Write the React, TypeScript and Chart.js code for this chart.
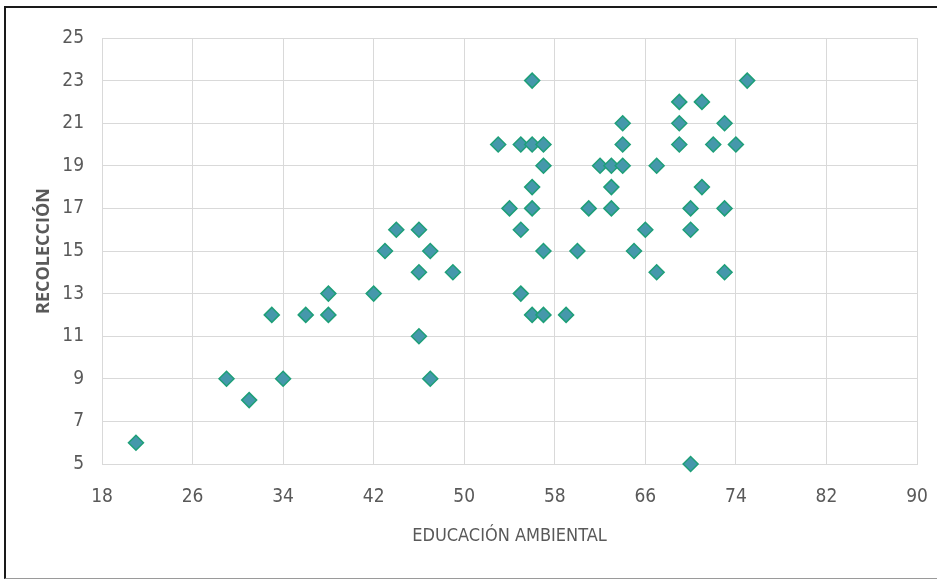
import { useEffect, useRef } from 'react';
import { Chart, registerables } from 'chart.js';

Chart.register(...registerables);

const educacionAmbiental = [21, 29, 31, 33, 34, 36, 38, 38, 42, 43, 44, 46, 46, 46, 47, 47, 49, 53, 54, 55, 55, 55, 56, 56, 56, 56, 56, 57, 57, 57, 57, 59, 60, 61, 62, 63, 63, 63, 64, 64, 64, 65, 66, 67, 67, 69, 69, 69, 70, 70, 70, 71, 71, 72, 73, 73, 73, 74, 75];
const recoleccion = [6, 9, 8, 12, 9, 12, 13, 12, 13, 15, 16, 16, 14, 11, 15, 9, 14, 20, 17, 20, 16, 13, 23, 20, 18, 17, 12, 20, 19, 15, 12, 12, 15, 17, 19, 19, 18, 17, 21, 20, 19, 15, 16, 19, 14, 22, 21, 20, 17, 16, 5, 22, 18, 20, 21, 17, 14, 20, 23];

const xTitle = 'EDUCACIÓN AMBIENTAL';
const yTitle = 'RECOLECCIÓN';
const xRange = [18, 90];
const xStep = 8;
const yRange = [5, 25];
const yStep = 2;

const NARROW = '"DejaVu Sans Condensed", "Roboto", sans-serif';

export default function App() {
  const ref = useRef<HTMLCanvasElement | null>(null);

  useEffect(() => {
    document.body.style.margin = '0';
    const canvas = ref.current;
    if (!canvas) return;
    const points = educacionAmbiental.map((x, i) => ({ x, y: recoleccion[i] }));
    const chart = new Chart(canvas, {
      type: 'scatter',
      data: {
        datasets: [
          {
            data: points,
            pointStyle: 'rectRot',
            pointRadius: 7.5,
            pointHoverRadius: 7.5,
            backgroundColor: '#4598ab',
            borderColor: '#1e9f78',
            borderWidth: 1.5,
            clip: false,
          },
        ],
      },
      options: {
        animation: false,
        responsive: false,
        maintainAspectRatio: false,
        layout: { padding: { left: 0, right: 20, top: 38, bottom: 0 } },
        plugins: {
          legend: { display: false },
          tooltip: { enabled: false },
        },
        scales: {
          x: {
            type: 'linear',
            min: xRange[0],
            max: xRange[1],
            ticks: {
              stepSize: xStep,
              color: '#595959',
              font: { family: NARROW, size: 19 },
              padding: 22,
            },
            grid: { color: '#d9d9d9', drawTicks: false, lineWidth: 1 },
            border: { display: true, color: '#d9d9d9' },
            title: {
              display: true,
              text: xTitle,
              color: '#595959',
              font: { family: NARROW, size: 18 },
              padding: { top: 0, bottom: 33 },
            },
            afterFit: (s: any) => {
              s.height = 116;
              s.paddingLeft = 0;
              s.paddingRight = 0;
            },
          },
          y: {
            type: 'linear',
            min: yRange[0],
            max: yRange[1],
            ticks: {
              stepSize: yStep,
              color: '#595959',
              font: { family: NARROW, size: 19 },
              padding: 18,
            },
            grid: { color: '#d9d9d9', drawTicks: false, lineWidth: 1 },
            border: { display: true, color: '#d9d9d9' },
            title: {
              display: true,
              text: yTitle,
              color: '#595959',
              font: { family: '"Open Sans", sans-serif', size: 18, weight: 'bold' },
              padding: { top: 33, bottom: 0 },
            },
            afterFit: (s: any) => {
              s.width = 102;
              s.paddingTop = 0;
              s.paddingBottom = 0;
            },
          },
        },
      },
    });
    return () => chart.destroy();
  }, []);

  return (
    <div style={{ position: 'relative', width: 937, height: 580, background: '#fff', overflow: 'hidden' }}>
      <div
        style={{
          position: 'absolute',
          left: 4,
          top: 6,
          width: 940,
          height: 573,
          borderTop: '2px solid #1a1a1a',
          borderLeft: '2px solid #1a1a1a',
          borderBottom: '1px solid #9a9a9a',
          boxSizing: 'border-box',
        }}
      />
      <canvas ref={ref} width={937} height={580} style={{ position: 'absolute', left: 0, top: 0 }} />
    </div>
  );
}
